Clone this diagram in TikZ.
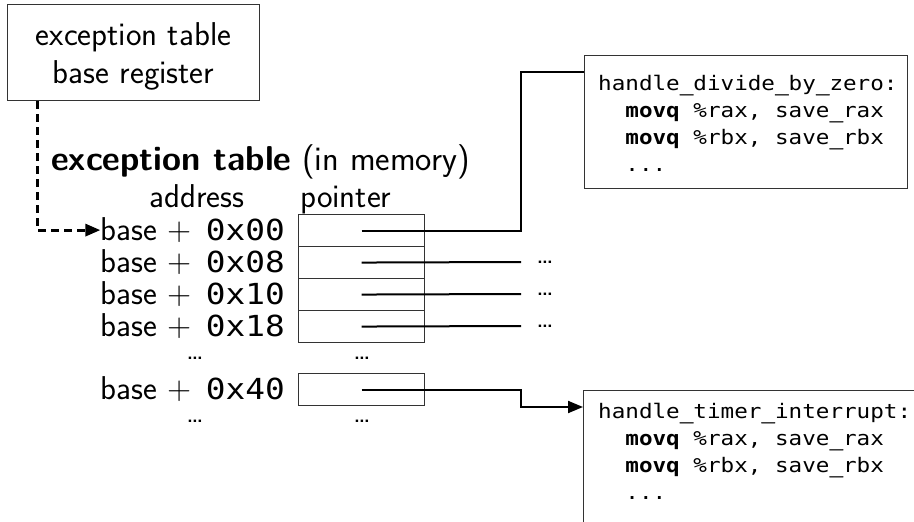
\documentclass[tikz,border=0pt]{standalone}
\usepackage{fontspec}
\renewcommand{\familydefault}{\sfdefault}
\newfontfamily\codefont[FakeStretch=1.13]{DejaVu Sans Mono}
\newfontfamily\usfont[FakeStretch=1.13,FakeBold=1.5]{DejaVu Sans Mono}
\usetikzlibrary{calc,arrows.meta}
\newcommand{\addrf}{\codefont\fontsize{29}{34}\selectfont}
\newcommand{\us}{{\usfont\_}}
\begin{document}
\begin{tikzpicture}[x=1pt,y=-1pt,
  sans/.style={font=\sffamily\fontsize{33}{38}\selectfont},
  txt/.style={sans, inner sep=0pt},
  addr/.style={txt, anchor=base east},
  cell/.style={draw=black!80, line width=1.1pt, minimum width=126pt, minimum height=32pt, inner sep=0pt, anchor=north west},
  box/.style={draw=black!80, line width=1.2pt, anchor=north west, inner sep=0pt},
  conn/.style={line width=2pt},
  code/.style={font=\codefont\fontsize{20}{27}\selectfont, align=left, anchor=north west, inner sep=0pt},
  dotsnode/.style={font=\sffamily\fontsize{30}{32}\selectfont, inner xsep=15pt, inner ysep=0pt, anchor=west},
  ddots/.style={font=\sffamily\fontsize{30}{32}\selectfont, inner sep=0pt, anchor=base}
]
\clip (0,0) rectangle (914,522);
\useasboundingbox (0,0) rectangle (914,522);

% register box
\node[box, minimum width=252pt, minimum height=96pt] (reg) at (7,4) {};
\node[txt, align=center] (regtext) at ($(reg.center)+(0,4)$) {exception table\\base register};

% headings
\node[txt, anchor=base west, font=\sffamily\fontsize{34.5}{40}\selectfont] (title) at (51,170) {\textbf{exception table} (in memory)};
\node[txt, anchor=base] (haddr) at (197,207) {address};
\node[txt, anchor=base west] (hptr) at (300,207) {pointer};

% table cells
\node[cell] (c0) at (298,214) {};
\node[cell] (c1) at (298,246) {};
\node[cell] (c2) at (298,278) {};
\node[cell] (c3) at (298,310) {};
\node[cell] (c8) at (298,373) {};

% addresses
\node[addr] (a0) at (285,240.5) {base + \hspace{4pt}{\addrf 0x00}};
\node[addr] (a1) at (285,272.5) {base + \hspace{4pt}{\addrf 0x08}};
\node[addr] (a2) at (285,304.5) {base + \hspace{4pt}{\addrf 0x10}};
\node[addr] (a3) at (285,336.5) {base + \hspace{4pt}{\addrf 0x18}};
\node[addr] (a8) at (285,399.5) {base + \hspace{4pt}{\addrf 0x40}};

% column dots
\node[ddots] (ad1) at (195,359) {\ldots};
\node[ddots] (ad2) at (195,422) {\ldots};
\node[ddots] (pd1) at (362,359) {\ldots};
\node[ddots] (pd2) at (362,422) {\ldots};

% row dots
\node[dotsnode] (d1) at (521,262) {\ldots};
\node[dotsnode] (d2) at (521,294) {\ldots};
\node[dotsnode] (d3) at (521,326) {\ldots};

% handler boxes
\node[box, minimum width=323pt, minimum height=133pt] (box1) at (584,55) {};
\node[code] (t1) at (598,75) {handle\us divide\us by\us zero:\\
\hphantom{mm}{\bfseries movq} \%rax, save\us rax\\
\hphantom{mm}{\bfseries movq} \%rbx, save\us rbx\\
\hphantom{mm}...};

\node[box, minimum width=400pt, minimum height=200pt] (box2) at (583,390) {};
\node[code] (t2) at (598,403) {handle\us timer\us interrupt:\\
\hphantom{mm}{\bfseries movq} \%rax, save\us rax\\
\hphantom{mm}{\bfseries movq} \%rbx, save\us rbx\\
\hphantom{mm}...};

% connectors
\draw[line width=3pt, dash pattern=on 8pt off 5pt, -{Triangle[length=15pt,width=12pt]}]
  ($(reg.south west)+(30,0)$) |- (a0.west);
\draw[conn] (c0.center) -- ++(159,0) |- ($(box1.north west)+(0,17)$);
\draw[conn] (c1.center) -- (d1.west);
\draw[conn] (c2.center) -- (d2.west);
\draw[conn] (c3.center) -- (d3.west);
\draw[conn, -{Triangle[length=15pt,width=12pt]}] (c8.center) -- ++(159,0) |- ($(box2.north west)+(0,17)$);
\end{tikzpicture}
\end{document}
